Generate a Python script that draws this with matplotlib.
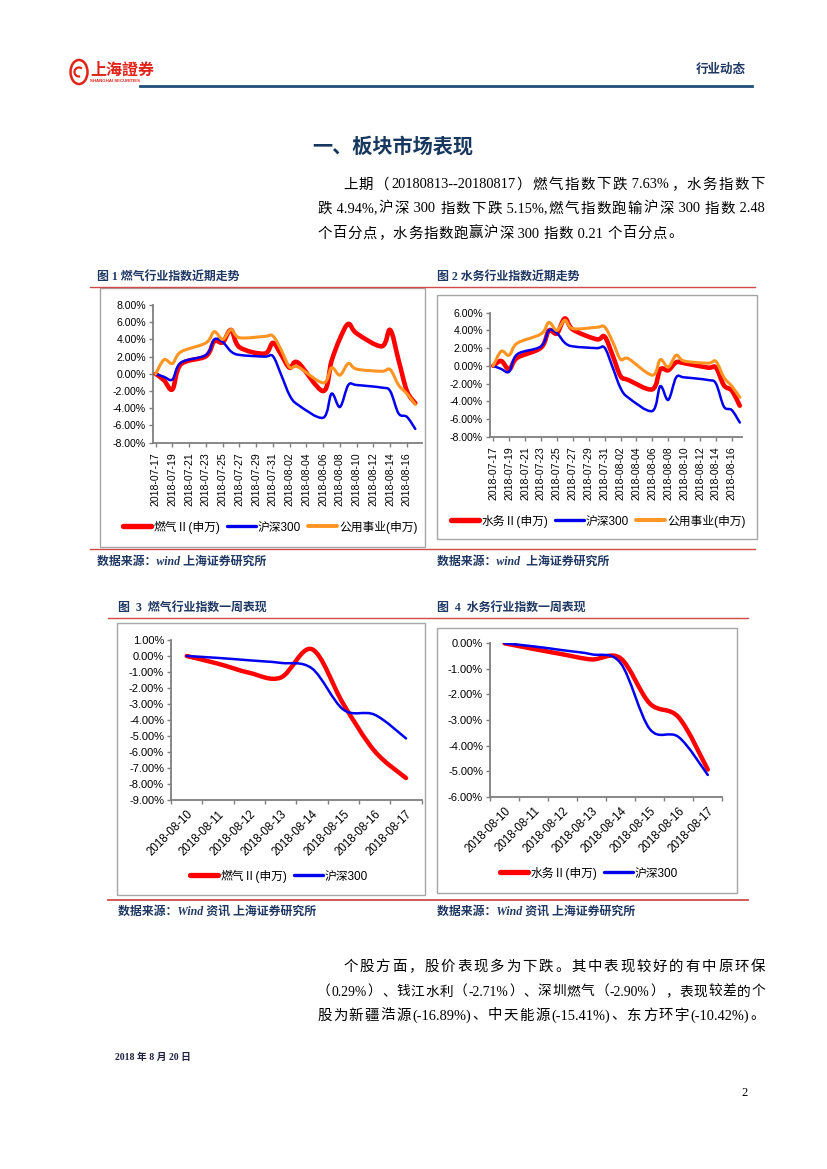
import numpy as np
import pandas as pd
import matplotlib
matplotlib.use('Agg')
import matplotlib.pyplot as plt
from matplotlib.path import Path
from matplotlib.patches import PathPatch, Rectangle, Circle, Arc
from matplotlib.lines import Line2D
from matplotlib.font_manager import FontProperties

plt.rcParams['font.family'] = ['Liberation Sans', 'Noto Sans CJK SC', 'DejaVu Sans']
SERIF = ['Liberation Serif', 'Noto Sans CJK SC', 'DejaVu Sans']
SANS = ['Liberation Sans', 'Noto Sans CJK SC', 'DejaVu Sans']

# 数据：近一月走势（交易日）
dates_month = ['2018-07-17', '2018-07-18', '2018-07-19', '2018-07-20', '2018-07-23',
               '2018-07-24', '2018-07-25', '2018-07-26', '2018-07-27', '2018-07-30',
               '2018-07-31', '2018-08-01', '2018-08-02', '2018-08-03', '2018-08-06',
               '2018-08-07', '2018-08-08', '2018-08-09', '2018-08-10', '2018-08-13',
               '2018-08-14', '2018-08-15', '2018-08-16', '2018-08-17']
gas_month = [0.00, -0.75, -1.80, 1.10, 2.05, 3.80, 3.65, 5.10, 3.10, 2.35, 3.60, 2.20,
             0.70, 1.30, -2.00, 1.50, 4.10, 5.80, 4.70, 3.20, 5.10, 1.60, -2.00, -3.40]
water_month = [0.00, 0.55, -0.40, 0.90, 2.05, 4.00, 3.65, 5.35, 4.10, 3.00, 3.30, 1.20,
               -1.15, -1.60, -2.65, -0.40, -0.50, 0.40, 0.30, -0.20, -0.20, -2.20, -2.80, -4.50]
hs300_month = [0.00, -0.35, -0.65, 1.30, 2.20, 4.00, 3.70, 2.60, 2.20, 2.00, 2.05, -0.15,
               -2.50, -3.60, -5.10, -2.30, -3.85, -1.30, -1.30, -1.60, -2.00, -4.60, -5.00, -6.40]
util_month = [0.00, 1.65, 1.20, 2.55, 3.60, 4.90, 4.00, 5.15, 4.20, 4.35, 4.40, 2.75,
              0.75, 0.80, -1.05, 0.70, -0.15, 1.20, 0.55, 0.30, 0.50, -1.30, -2.30, -3.55]
tick_dates_month = ['2018-07-17', '2018-07-19', '2018-07-21', '2018-07-23', '2018-07-25',
                    '2018-07-27', '2018-07-29', '2018-07-31', '2018-08-02', '2018-08-04',
                    '2018-08-06', '2018-08-08', '2018-08-10', '2018-08-12', '2018-08-14',
                    '2018-08-16']

# 数据：一周表现
dates_week = ['2018-08-10', '2018-08-11', '2018-08-12', '2018-08-13',
              '2018-08-14', '2018-08-15', '2018-08-16', '2018-08-17']
gas_week = [0.00, -0.48, -1.05, -1.35, 0.42, -3.00, -5.95, -7.63]
water_week = [0.00, -0.22, -0.43, -0.63, -0.59, -2.35, -2.90, -4.94]
hs300_week = [0.00, -0.12, -0.27, -0.43, -0.78, -3.35, -3.67, -5.15]

RED = '#FF0000'
BLUE = '#0000F0'
ORANGE = '#FF9422'
NAVY = '#1F3864'
LINE_RED = '#D24B4B'

W, H = 827, 1169
fig = plt.figure(figsize=(W / 100, H / 100), dpi=100)


def fx(x):
    return x / W


def fy(y):
    return 1 - y / H


def ax_at(l, t, r, b):
    return fig.add_axes([fx(l), fy(b), (r - l) / W, (b - t) / H])


def hline(x0, x1, y, color, lw):
    fig.add_artist(Line2D([fx(x0), fx(x1)], [fy(y), fy(y)], transform=fig.transFigure,
                          color=color, lw=lw))


def box(l, t, r, b):
    fig.add_artist(Rectangle((fx(l), fy(b)), (r - l) / W, (b - t) / H, transform=fig.transFigure,
                             fill=False, ec='#A6A6A6', lw=1.0))


def smooth_path(xs, ys):
    # 平滑折线（类似 Excel 的平滑线）
    p = np.column_stack([xs, ys]).astype(float)
    n = len(p)
    verts = [p[0]]
    codes = [Path.MOVETO]
    for i in range(n - 1):
        p0 = p[i - 1] if i > 0 else p[i]
        p3 = p[i + 2] if i + 2 < n else p[i + 1]
        c1 = p[i] + (p[i + 1] - p0) / 6
        c2 = p[i + 1] - (p3 - p[i]) / 6
        verts += [c1, c2, p[i + 1]]
        codes += [Path.CURVE4] * 3
    return Path(verts, codes)


def draw_series(ax, xs, ys, color, lw, z):
    ax.add_patch(PathPatch(smooth_path(xs, ys), fill=False, ec=color, lw=lw,
                           capstyle='round', joinstyle='round', zorder=z))


def style_axes(ax, fs):
    for s in ['top', 'right']:
        ax.spines[s].set_visible(False)
    for s in ['left', 'bottom']:
        ax.spines[s].set_color('#7F7F7F')
        ax.spines[s].set_linewidth(1.3)
    ax.tick_params(axis='both', which='both', direction='out', color='#7F7F7F',
                   width=1.0, labelsize=fs, labelcolor='black')
    ax.tick_params(axis='y', length=3, pad=2)
    ax.set_facecolor('none')


def pct(v):
    return '%.2f%%' % v


def legend(ax, handles, labels, cx, cy):
    ax.legend(handles, labels, loc='center', bbox_to_anchor=(fx(cx), fy(cy)),
              bbox_transform=fig.transFigure, ncol=len(labels), frameon=False,
              handlelength=2.4, handletextpad=0.2, columnspacing=0.6,
              prop=FontProperties(family=SANS, size=8.5))


# ---------- 页眉 ----------
fig.add_artist(Circle((fx(79), fy(72)), 8.5 / W, transform=fig.transFigure,
                      fill=False, ec='#E2231A', lw=1.8))
fig.add_artist(Arc((fx(79), fy(72)), 9 / W, 9 / H, theta1=40, theta2=290,
                   transform=fig.transFigure, color='#E2231A', lw=1.6))
fig.text(fx(90), fy(70), '上海證券', fontsize=11.5, fontweight='bold', color='#E2231A',
         family=['Noto Sans CJK TC', 'Noto Sans CJK SC'], va='center', ha='left')
fig.text(fx(90), fy(81), 'SHANGHAI SECURITIES', fontsize=3.2, fontweight='bold',
         color='#E2231A', va='center', ha='left')
fig.text(fx(746), fy(70), '行业动态', fontsize=9, fontweight='bold', color=NAVY,
         family=SANS, va='center', ha='right')
hline(140, 752, 86, '#1F4E79', 2.0)

# ---------- 标题与正文 ----------
fig.text(fx(393), fy(147), '一、板块市场表现', fontsize=14.5, fontweight='bold', color='#17375E',
         family=SANS, va='center', ha='center')

renderer = fig.canvas.get_renderer()


def tokens_of(s):
    out, buf = [], ''
    for ch in s:
        if ord(ch) > 0x2E80:
            if buf:
                out.append(buf)
                buf = ''
            out.append(ch)
        else:
            buf += ch
    if buf:
        out.append(buf)
    return out


def text_line(s, x0, x1, y, justify, size=10.4):
    toks = tokens_of(s)
    ts = [fig.text(0, fy(y), t, fontsize=size, family=SERIF, va='center', ha='left',
                   color='black') for t in toks]
    ws = [t.get_window_extent(renderer).width for t in ts]
    avail = x1 - x0 - 0.8 * (len(toks) - 1)
    if justify and sum(ws) > avail:
        k = avail / sum(ws)
        for t in ts:
            t.set_fontsize(size * k)
        ws = [t.get_window_extent(renderer).width for t in ts]
    gap = (x1 - x0 - sum(ws)) / (len(toks) - 1) if justify else 0.8
    x = x0
    for t, w in zip(ts, ws):
        t.set_x(fx(x))
        x += w + gap


para1 = ['上期（20180813--20180817）燃气指数下跌 7.63%，水务指数下',
         '跌 4.94%,沪深 300 指数下跌 5.15%,燃气指数跑输沪深 300 指数 2.48',
         '个百分点，水务指数跑赢沪深 300 指数 0.21 个百分点。']
text_line(para1[0], 343, 765, 185, True)
text_line(para1[1], 317, 765, 209, True)
text_line(para1[2], 317, 765, 234, False)

para2 = ['个股方面，股价表现多为下跌。其中表现较好的有中原环保',
         '（0.29%）、钱江水利（-2.71%）、深圳燃气（-2.90%），表现较差的个',
         '股为新疆浩源(-16.89%)、中天能源(-15.41%)、东方环宇(-10.42%)。']
text_line(para2[0], 343, 765, 967, True)
text_line(para2[1], 317, 765, 992, True)
text_line(para2[2], 317, 765, 1016, True)

# ---------- 图表标题、分隔线、来源 ----------
cap_kw = dict(fontsize=8.6, fontweight='bold', color=NAVY, family=SERIF, va='center', ha='left')
fig.text(fx(97), fy(277), '图 1 燃气行业指数近期走势', **cap_kw)
fig.text(fx(437), fy(277), '图 2 水务行业指数近期走势', **cap_kw)
fig.text(fx(118), fy(608), '图  3  燃气行业指数一周表现', **cap_kw)
fig.text(fx(437), fy(608), '图  4  水务行业指数一周表现', **cap_kw)
hline(90, 755, 287, LINE_RED, 1.0)
hline(90, 755, 549, LINE_RED, 1.0)
hline(108, 748, 618, LINE_RED, 1.0)
hline(108, 748, 900, LINE_RED, 1.3)
src_kw = dict(fontsize=8.6, fontweight='bold', style='italic', color=NAVY, family=SERIF,
              va='center', ha='left')
fig.text(fx(97), fy(562), '数据来源：wind 上海证券研究所', **src_kw)
fig.text(fx(437), fy(562), '数据来源：wind  上海证券研究所', **src_kw)
fig.text(fx(118), fy(912), '数据来源：Wind 资讯 上海证券研究所', **src_kw)
fig.text(fx(437), fy(912), '数据来源：Wind 资讯 上海证券研究所', **src_kw)

# ---------- 图1、图2：近期走势 ----------
start = pd.Timestamp('2018-07-17')
xm = (pd.to_datetime(dates_month) - start).days.values
xt = (pd.to_datetime(tick_dates_month) - start).days.values


def month_chart(box_ltrb, ax_ltrb, xlim, ylim, yticks, series, labels, leg_c):
    box(*box_ltrb)
    ax = ax_at(*ax_ltrb)
    style_axes(ax, 7.6)
    handles = []
    for z, (ys, color, lw) in enumerate(series):
        draw_series(ax, xm, ys, color, lw, 3 + z)
        handles.append(Line2D([], [], color=color, lw=lw + 0.6, solid_capstyle='round'))
    ax.set_xlim(*xlim)
    ax.set_ylim(*ylim)
    ax.set_yticks(yticks)
    ax.set_yticklabels([pct(v) for v in yticks])
    ax.set_xticks(xt)
    ax.set_xticklabels(tick_dates_month, rotation=90)
    ax.tick_params(axis='x', length=3, pad=4)
    legend(ax, handles, labels, *leg_c)


month_chart((100, 288, 425, 547), (153, 305, 422, 442.7), (-0.32, 31.8), (-8, 8),
            np.arange(-8, 9, 2),
            [(gas_month, RED, 3.3), (hs300_month, BLUE, 1.8), (util_month, ORANGE, 2.2)],
            ['燃气Ⅱ(申万)', '沪深300', '公用事业(申万)'], (270, 527))
month_chart((437, 295, 757, 539), (490, 312.7, 741.7, 436.7), (-0.41, 31.24), (-8, 6),
            np.arange(-8, 7, 2),
            [(water_month, RED, 3.3), (hs300_month, BLUE, 1.8), (util_month, ORANGE, 2.2)],
            ['水务Ⅱ(申万)', '沪深300', '公用事业(申万)'], (598, 521))

# ---------- 图3、图4：一周表现 ----------
xw = np.arange(len(dates_week))


def week_chart(box_ltrb, ax_ltrb, ylim, yticks, series, labels, leg_c):
    box(*box_ltrb)
    ax = ax_at(*ax_ltrb)
    style_axes(ax, 8)
    handles = []
    for z, (ys, color, lw) in enumerate(series):
        draw_series(ax, xw, ys, color, lw, 3 + z)
        handles.append(Line2D([], [], color=color, lw=lw + 0.6, solid_capstyle='round'))
    ax.set_xlim(-0.5, len(dates_week) - 0.5)
    ax.set_ylim(*ylim)
    ax.set_yticks(yticks)
    ax.set_yticklabels([pct(v) for v in yticks])
    ax.set_xticks(np.arange(len(dates_week) + 1) - 0.5)
    ax.set_xticklabels([])
    ax.tick_params(axis='x', which='major', length=3)
    ax.set_xticks(xw, minor=True)
    ax.set_xticklabels(dates_week, minor=True, rotation=45, ha='right', va='top',
                       rotation_mode='anchor')
    ax.tick_params(axis='x', which='minor', length=0, pad=6, labelsize=8.3)
    legend(ax, handles, labels, *leg_c)


week_chart((117, 623, 425, 895), (171, 640, 421.7, 800), (-9, 1), np.arange(-9, 2, 1),
           [(gas_week, RED, 3.2), (hs300_week, BLUE, 1.8)],
           ['燃气Ⅱ(申万)', '沪深300'], (279, 876))
week_chart((437, 628, 737, 893), (490, 643.3, 722.3, 796.7), (-6, 0), np.arange(-6, 1, 1),
           [(water_week, RED, 3.2), (hs300_week, BLUE, 1.8)],
           ['水务Ⅱ(申万)', '沪深300'], (589, 873))

# ---------- 页脚 ----------
fig.text(fx(115), fy(1057), '2018 年 8 月 20 日', fontsize=7, fontweight='bold', color='#1F1F3F',
         family=SERIF, va='center', ha='left')
fig.text(fx(748), fy(1093), '2', fontsize=9, color='black', family=SERIF, va='center', ha='right')

fig.savefig('out.png', dpi=100)
